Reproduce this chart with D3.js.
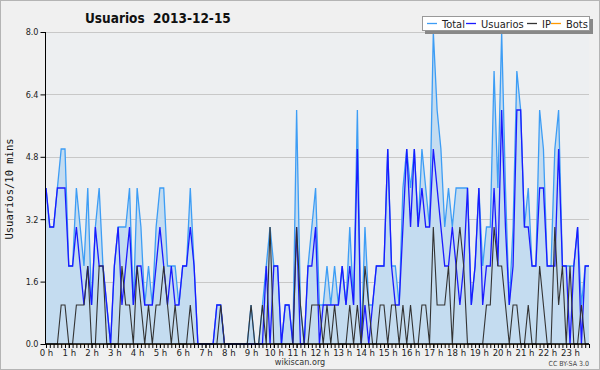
<!DOCTYPE html>
<html>
<head>
<meta charset="utf-8">
<script src="https://cdn.jsdelivr.net/npm/d3@7"></script>
<style>
  body { margin: 0; background: #f0f0f0; }
  svg { display: block; }
  text { font-family: "DejaVu Sans Condensed", "DejaVu Sans", sans-serif; }
</style>
</head>
<body>
<script>
// valeurs par tranche de 10 minutes (144 points)
const total = [4,3,3,4,5,5,2,2,4,3,2,4,1,3,4,2,1,0,2,3,3,3,4,1,
  4,3,1,2,1,3,4,4,2,2,2,1,2,2,4,2,0,0,0,0,0,1,1,0,
  0,0,0,0,0,0,1,0,0,1,2,3,2,2,0,1,1,0,6,1,0,2,3,4,
  1,1,2,1,2,1,2,1,3,1,6,0,3,1,1,2,2,2,5,2,2,1,4,5,
  4,5,3,5,4,3,8,6,5,3,4,3,4,4,4,4,1,2,4,2,3,3,7,4,
  8,4,1,3,7,6,3,4,2,2,6,5,2,2,5,6,2,2,2,2,3,1,2,2];
const usuarios = [4,3,3,4,4,4,2,2,3,2,1,2,1,3,2,2,1,0,2,3,1,2,3,1,
  2,2,1,1,1,2,3,2,1,2,1,1,2,2,3,2,0,0,0,0,0,1,1,0,
  0,0,0,0,0,0,0,0,0,0,2,0,2,2,0,1,1,0,3,0,0,2,2,3,
  0,1,1,1,1,1,2,1,2,1,5,0,1,0,1,2,2,2,5,2,1,1,3,5,
  3,5,3,4,3,3,5,4,3,2,2,3,2,1,2,4,1,2,4,1,2,2,4,2,
  6,3,1,2,6,6,3,3,2,2,4,4,2,2,2,5,2,2,0,2,3,0,2,2];
const ip = [0,0,0,0,1,1,0,0,1,1,1,2,0,0,2,2,0,0,0,0,2,1,1,0,
  2,1,0,1,0,1,1,2,1,0,1,0,0,0,1,0,0,0,0,0,0,0,1,0,
  0,0,0,0,0,0,1,0,0,1,0,3,0,0,0,0,0,0,3,1,0,0,1,1,
  1,0,1,0,1,0,0,0,1,0,1,0,2,1,0,0,1,1,0,1,1,0,1,0,
  1,0,0,1,1,0,3,1,1,1,2,0,2,3,2,0,0,0,0,0,1,1,3,2,
  2,1,0,1,1,0,0,1,0,0,2,1,0,0,3,1,2,0,2,0,0,1,0,0];
const bots = new Array(144).fill(0);

const heures = d3.range(24).map(h => h + " h");
const yTicks = [0, 1.6, 3.2, 4.8, 6.4, 8.0];

const legende = [
  {nom: "Total", couleur: "#3d9df5"},
  {nom: "Usuarios", couleur: "#1a1aff"},
  {nom: "IP", couleur: "#333333"},
  {nom: "Bots", couleur: "#ff9900"}
];

const width = 600, height = 370;
const svg = d3.select("body").append("svg")
  .attr("width", width).attr("height", height);

svg.append("rect")
  .attr("x", 0.5).attr("y", 0.5)
  .attr("width", width - 1).attr("height", height - 1)
  .attr("fill", "#f0f0f0").attr("stroke", "#b4b4b4");

// echelles
const x = d3.scaleLinear().domain([0, 143]).range([46, 589]);
const y = d3.scaleLinear().domain([0, 8]).range([344, 32]);

svg.append("rect")
  .attr("x", x(0)).attr("y", y(8))
  .attr("width", x(143) - x(0)).attr("height", y(0) - y(8))
  .attr("fill", "#edeff1");

// grille
svg.append("g").selectAll("line")
  .data(yTicks.slice(1))
  .enter().append("line")
  .attr("x1", x(0)).attr("x2", x(143))
  .attr("y1", d => Math.round(y(d)) + 0.5).attr("y2", d => Math.round(y(d)) + 0.5)
  .attr("stroke", "#c8c8c8");

// aire + lignes
const area = d3.area()
  .x((d, i) => x(i))
  .y0(y(0))
  .y1(d => y(d));
const line = d3.line()
  .x((d, i) => x(i))
  .y(d => y(d));

svg.append("path").datum(bots)
  .attr("d", line).attr("fill", "none")
  .attr("stroke", legende[3].couleur).attr("stroke-width", 1);

svg.append("path").datum(total)
  .attr("d", area)
  .attr("fill", "#c4dcf0");

svg.append("path").datum(total)
  .attr("d", line).attr("fill", "none")
  .attr("stroke", legende[0].couleur).attr("stroke-width", 1.3);
svg.append("path").datum(usuarios)
  .attr("d", line).attr("fill", "none")
  .attr("stroke", legende[1].couleur).attr("stroke-width", 1.3);
svg.append("path").datum(ip)
  .attr("d", line).attr("fill", "none")
  .attr("stroke", legende[2].couleur).attr("stroke-width", 1.1);

// axe Y
const axeY = svg.append("g").attr("transform", "translate(" + (x(0) - 0.5) + ",0)");
axeY.call(d3.axisLeft(y).tickValues(d3.range(0, 8.01, 0.4)).tickSize(3).tickFormat(""))
  .call(g => g.select(".domain").remove());
axeY.call(d3.axisLeft(y).tickValues(yTicks).tickSize(5).tickPadding(2).tickFormat(d3.format(".1f")))
  .call(g => g.selectAll("text").attr("font-size", 9).attr("fill", "#222")
    .style("font-family", "'DejaVu Sans Condensed', sans-serif"))
  .call(g => g.select(".domain").attr("d", "M0," + y(8) + "V" + (y(0) + 0.5)));

// axe X
const axeX = svg.append("g").attr("transform", "translate(0," + y(0) + ")");
axeX.call(d3.axisBottom(x).tickValues(d3.range(0, 144)).tickSize(4).tickFormat(""))
  .call(g => g.select(".domain").attr("d", "M" + (x(0) - 1) + ",0H" + x(143))
    .attr("stroke-width", 1.4));
axeX.append("g")
  .call(d3.axisBottom(x).tickValues(d3.range(0, 144, 6)).tickSize(4).tickPadding(1)
    .tickFormat((d, i) => heures[i]))
  .call(g => g.select(".domain").remove())
  .call(g => g.selectAll("text").attr("font-size", 9.5).attr("fill", "#222")
    .style("font-family", "'DejaVu Sans Condensed', sans-serif"));

// titres
svg.append("text")
  .attr("x", 85).attr("y", 23)
  .attr("font-size", 13.5).attr("font-weight", "bold").attr("fill", "#111")
  .style("white-space", "pre")
  .text("Usuarios  2013-12-15");

svg.append("text")
  .attr("transform", "translate(13,189) rotate(-90)")
  .attr("text-anchor", "middle")
  .attr("font-size", 10.5).attr("fill", "#111")
  .style("font-family", "'DejaVu Sans Mono', monospace")
  .text("Usuarios/10 mins");

svg.append("text")
  .attr("x", 300).attr("y", 365)
  .attr("text-anchor", "middle")
  .attr("font-size", 9).attr("fill", "#333")
  .text("wikiscan.org");

svg.append("text")
  .attr("x", 589).attr("y", 366)
  .attr("text-anchor", "end")
  .attr("font-size", 7).attr("fill", "#444")
  .text("CC BY-SA 3.0");

// legende
const leg = svg.append("g");
leg.append("rect")
  .attr("x", 425).attr("y", 19).attr("width", 168).attr("height", 15)
  .attr("fill", "#888");
leg.append("rect")
  .attr("x", 422.5).attr("y", 16.5).attr("width", 167).attr("height", 14)
  .attr("fill", "#fff").attr("stroke", "#999");
const posLeg = [427, 466, 527, 551];
legende.forEach((d, i) => {
  leg.append("line")
    .attr("x1", posLeg[i]).attr("x2", posLeg[i] + 10)
    .attr("y1", 23.5).attr("y2", 23.5)
    .attr("stroke", d.couleur).attr("stroke-width", 1.3);
  leg.append("text")
    .attr("x", posLeg[i] + 15).attr("y", 27.5)
    .attr("font-size", 11).attr("fill", "#222")
    .text(d.nom);
});
</script>
</body>
</html>
